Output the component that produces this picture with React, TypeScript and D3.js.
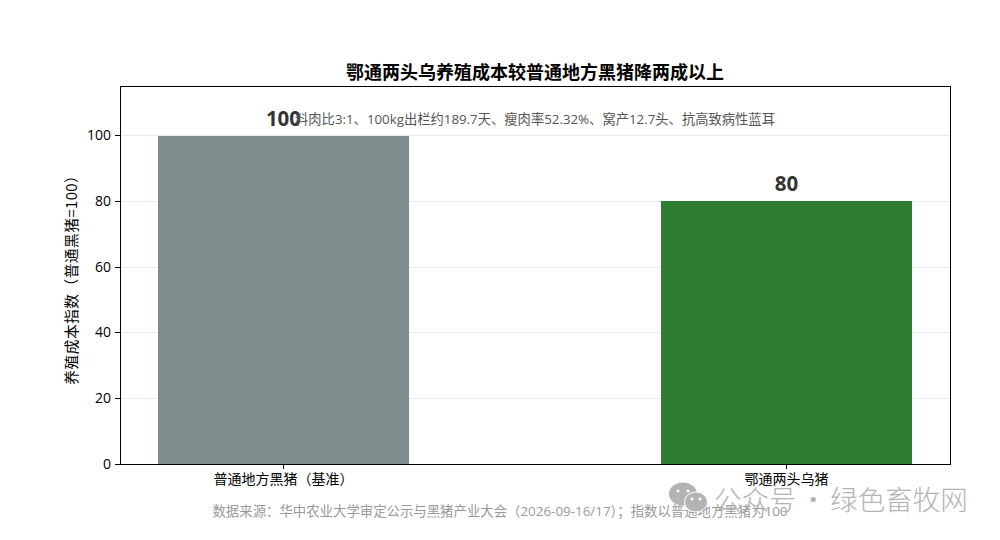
import { useRef, useEffect } from "react";
import * as d3 from "d3";

const CATEGORIES = ["普通地方黑猪（基准）", "鄂通两头乌猪"];
const VALUES = [100, 80];
const BAR_COLORS = ["#7f8c8d", "#2e7d32"];
const Y_TICKS = [0, 20, 40, 60, 80, 100];
const Y_MAX = 115;

const TITLE = "鄂通两头乌养殖成本较普通地方黑猪降两成以上";
const SUBTITLE = "料肉比3:1、100kg出栏约189.7天、瘦肉率52.32%、窝产12.7头、抗高致病性蓝耳";
const Y_LABEL = "养殖成本指数（普通黑猪=100）";
const SOURCE = "数据来源：华中农业大学审定公示与黑猪产业大会（2026-09-16/17）；指数以普通地方黑猪为100";
const WATERMARK = "公众号 · 绿色畜牧网";

const FONT = "'Open Sans', 'Noto Sans CJK SC', sans-serif";
const CJK_FONT = "'Noto Sans CJK SC', sans-serif";

export default function App() {
  const svgRef = useRef<SVGSVGElement>(null);

  useEffect(() => {
    if (!svgRef.current) return;
    const svg = d3.select(svgRef.current);
    svg.selectAll("*").remove();

    const margin = { top: 86.3, right: 50, bottom: 75.7, left: 120 };
    const width = 1000 - margin.left - margin.right;
    const height = 540 - margin.top - margin.bottom;

    const x = d3
      .scaleBand()
      .domain(CATEGORIES)
      .range([0, width])
      .paddingInner(0.5)
      .paddingOuter(0.075);
    const y = d3.scaleLinear().domain([0, Y_MAX]).range([height, 0]);

    const g = svg
      .append("g")
      .attr("transform", `translate(${margin.left},${margin.top})`);

    // Grid
    g.selectAll("line.grid")
      .data(Y_TICKS.slice(1))
      .enter()
      .append("line")
      .attr("class", "grid")
      .attr("x1", 0)
      .attr("x2", width)
      .attr("y1", (d) => y(d))
      .attr("y2", (d) => y(d))
      .attr("stroke", "#ececec")
      .attr("stroke-width", 1)
      .attr("shape-rendering", "crispEdges");

    // Bars
    g.selectAll("rect.bar")
      .data(VALUES)
      .enter()
      .append("rect")
      .attr("class", "bar")
      .attr("x", (_, i) => x(CATEGORIES[i]) ?? 0)
      .attr("y", (d) => y(d))
      .attr("width", x.bandwidth())
      .attr("height", (d) => height - y(d))
      .attr("fill", (_, i) => BAR_COLORS[i])
      .attr("shape-rendering", "crispEdges");

    // Frame
    g.append("rect")
      .attr("x", 0.5)
      .attr("y", 0.2)
      .attr("width", width)
      .attr("height", height)
      .attr("fill", "none")
      .attr("stroke", "#000")
      .attr("stroke-width", 1);

    // Y axis
    const yAxis = g
      .append("g")
      .call(d3.axisLeft(y).tickValues(Y_TICKS).tickSize(5).tickPadding(4).offset(0));
    yAxis.select(".domain").remove();
    yAxis.selectAll("line").attr("shape-rendering", "crispEdges");
    yAxis
      .selectAll("text")
      .attr("fill", "#000")
      .style("font-family", FONT)
      .style("font-size", "14px");

    // X axis
    const xAxis = g
      .append("g")
      .attr("transform", `translate(0,${height})`)
      .call(d3.axisBottom(x).tickSize(5).tickPadding(5).offset(0));
    xAxis.select(".domain").remove();
    xAxis.selectAll("line").attr("shape-rendering", "crispEdges");
    xAxis
      .selectAll("text")
      .attr("fill", "#000")
      .style("font-family", CJK_FONT)
      .style("font-size", "14px");

    // Value labels
    g.selectAll("text.value")
      .data(VALUES)
      .enter()
      .append("text")
      .attr("class", "value")
      .attr("x", (_, i) => (x(CATEGORIES[i]) ?? 0) + x.bandwidth() / 2)
      .attr("y", (d) => y(d) - 10)
      .attr("text-anchor", "middle")
      .attr("fill", "#333")
      .style("font-family", FONT)
      .style("font-weight", 700)
      .style("font-size", "20.5px")
      .text((d) => d);

    // Subtitle sits on top of the first value label, like the original
    g.append("text")
      .attr("x", 415)
      .attr("y", y(100) - 12)
      .attr("text-anchor", "middle")
      .attr("fill", "#555")
      .style("font-family", FONT)
      .style("font-size", "13.3px")
      .text(SUBTITLE);

    // Title
    svg
      .append("text")
      .attr("x", 535)
      .attr("y", 78.5)
      .attr("text-anchor", "middle")
      .attr("fill", "#000")
      .style("font-family", CJK_FONT)
      .style("font-weight", 700)
      .style("font-size", "18px")
      .text(TITLE);

    // Y label
    svg
      .append("text")
      .attr("transform", `translate(77,276.25) rotate(-90)`)
      .attr("text-anchor", "middle")
      .attr("fill", "#000")
      .style("font-family", CJK_FONT)
      .style("font-size", "14.7px")
      .style("letter-spacing", "0.5px")
      .text(Y_LABEL);

    // Source
    svg
      .append("text")
      .attr("x", 500)
      .attr("y", 516)
      .attr("text-anchor", "middle")
      .attr("fill", "#999")
      .style("font-family", FONT)
      .style("font-size", "13.4px")
      .text(SOURCE);

    // Watermark
    svg
      .append("text")
      .attr("x", 714)
      .attr("y", 510)
      .attr("fill", "#b4b4b4")
      .style("font-family", CJK_FONT)
      .style("font-size", "27.5px")
      .style("font-weight", 300)
      .style("word-spacing", "-3px")
      .text(WATERMARK);
    const icon = svg.append("g").attr("transform", "translate(669,484)");
    icon.append("ellipse").attr("cx", 14).attr("cy", 10).attr("rx", 14).attr("ry", 11.5).attr("fill", "#b4b4b4");
    icon.append("ellipse").attr("cx", 27).attr("cy", 18).attr("rx", 11.5).attr("ry", 10).attr("fill", "#b4b4b4").attr("stroke", "#fff").attr("stroke-width", 1);
    [[9, 7], [19, 7], [23, 15], [31, 15]].forEach(([cx, cy]) => {
      icon.append("circle").attr("cx", cx).attr("cy", cy).attr("r", 1.5).attr("fill", "#fff");
    });
  }, []);

  return (
    <svg
      ref={svgRef}
      width={1000}
      height={540}
      style={{ position: "absolute", left: 0, top: 0, background: "#fff" }}
    />
  );
}
